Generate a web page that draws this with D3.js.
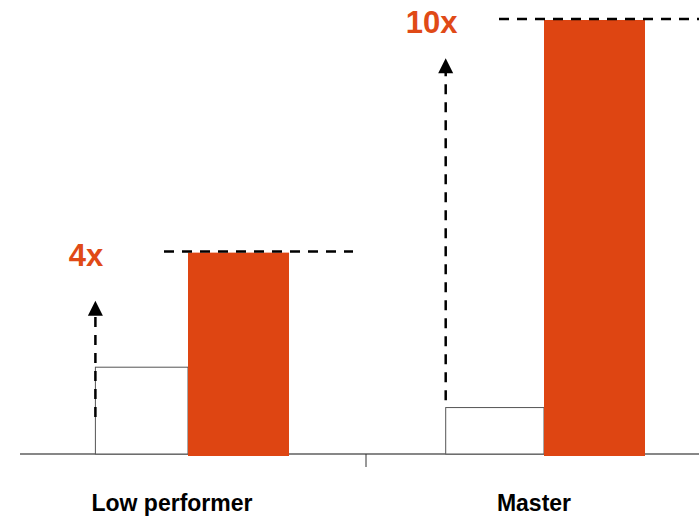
<!DOCTYPE html>
<html>
<head>
<meta charset="utf-8">
<script src="https://cdn.jsdelivr.net/npm/d3@7"></script>
<style>
  html, body { margin: 0; padding: 0; background: #fff; }
  svg { display: block; }
  text { font-family: "Liberation Sans", Arial, Helvetica, sans-serif; font-weight: bold; }
</style>
</head>
<body>
<svg id="chart" width="699" height="516"></svg>
<script>
// ---- data ----
const categories = ["Low performer", "Master"];
const baselineValues = [20.0, 10.7];
const improvedValues = [46.4, 100];
const multiplierLabels = ["4x", "10x"];
const arrowFrom = [8.5, 12.4];
const arrowTo = [35.3, 91.2];

// ---- layout ----
const W = 699, H = 516;
const baseY = 454;
const svg = d3.select("#chart");

const x = d3.scaleBand().domain(categories).range([10, 722]).padding(0);
const y = d3.scaleLinear().domain([0, 100]).range([baseY, 20]);

const orange = "#DE4512";
const labelOrange = "#E04A17";
const whiteW = [92.6, 98.3], orangeW = 101;
const centre = c => x(c) + x.bandwidth() / 2;
const leftEdge = (c, i) => centre(c) - whiteW[i];

// axis line and tick
svg.append("line")
  .attr("x1", 20).attr("x2", W)
  .attr("y1", baseY).attr("y2", baseY)
  .attr("stroke", "#111").attr("stroke-width", 1.2);
svg.append("line")
  .attr("x1", x(categories[1])).attr("x2", x(categories[1]))
  .attr("y1", baseY).attr("y2", baseY + 13)
  .attr("stroke", "#333").attr("stroke-width", 1);

const g = svg.selectAll("g.grp").data(categories).join("g").attr("class", "grp");

// baseline (white) bars
g.append("rect")
  .attr("x", (c, i) => leftEdge(c, i))
  .attr("y", (c, i) => y(baselineValues[i]))
  .attr("width", (c, i) => whiteW[i])
  .attr("height", (c, i) => baseY - y(baselineValues[i]))
  .attr("fill", "#fff")
  .attr("stroke", "#555").attr("stroke-width", 1);

// arrows (dashed shaft + head)
g.append("line")
  .attr("x1", (c, i) => leftEdge(c, i))
  .attr("x2", (c, i) => leftEdge(c, i))
  .attr("y1", (c, i) => y(arrowFrom[i]))
  .attr("y2", (c, i) => y(arrowTo[i]) + 14)
  .attr("stroke", "#000").attr("stroke-width", 2.5)
  .attr("stroke-dasharray", "10,8");
g.append("path")
  .attr("d", (c, i) => {
    const ax = leftEdge(c, i), ty = y(arrowTo[i]);
    return `M${ax},${ty} L${ax - 7.5},${ty + 15} L${ax + 7.5},${ty + 15} Z`;
  })
  .attr("fill", "#000");

// improved (orange) bars
g.append("rect")
  .attr("x", c => centre(c))
  .attr("y", (c, i) => y(improvedValues[i]))
  .attr("width", orangeW)
  .attr("height", (c, i) => baseY + 2 - y(improvedValues[i]))
  .attr("fill", orange);

// dashed reference lines at top of orange bars
const refStart = [-24, -45];
const refEnd = [165, 160];
g.append("line")
  .attr("x1", (c, i) => centre(c) + refStart[i])
  .attr("x2", (c, i) => centre(c) + refEnd[i])
  .attr("y1", (c, i) => y(improvedValues[i]) - 1)
  .attr("y2", (c, i) => y(improvedValues[i]) - 1)
  .attr("stroke", "#000").attr("stroke-width", 2.5)
  .attr("stroke-dasharray", "10,8");

// multiplier labels
const multShift = [-9.5, -14];
g.append("text")
  .attr("x", (c, i) => leftEdge(c, i) + multShift[i])
  .attr("y", (c, i) => y(improvedValues[i]) + 13)
  .attr("text-anchor", "middle")
  .attr("font-size", 31)
  .attr("fill", labelOrange)
  .text((c, i) => multiplierLabels[i]);

// category labels
const labelShift = [-16, -10];
g.append("text")
  .attr("x", (c, i) => centre(c) + labelShift[i])
  .attr("y", 511)
  .attr("text-anchor", "middle")
  .attr("font-size", 23)
  .attr("fill", "#000")
  .text(c => c);
</script>
</body>
</html>
